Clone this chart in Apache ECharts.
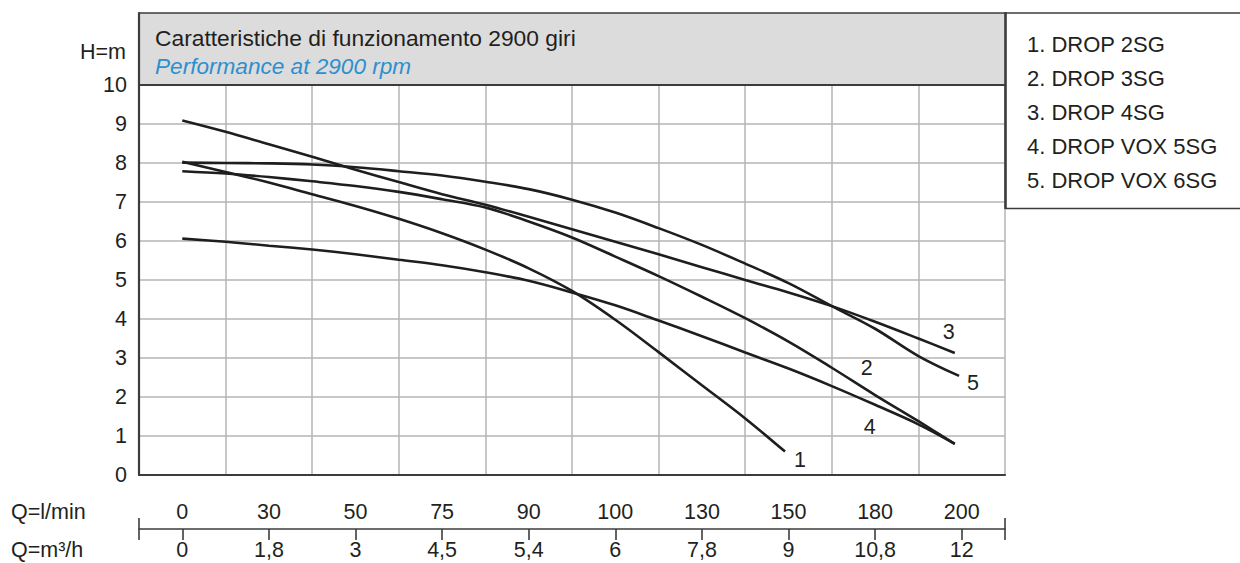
<!DOCTYPE html>
<html><head><meta charset="utf-8">
<script src="https://cdn.jsdelivr.net/npm/echarts@6/dist/echarts.min.js"></script>
<style>html,body{margin:0;padding:0;background:#fff}#c{width:1240px;height:563px}</style>
</head><body><div id="c"></div>
<script>
// ---- data (x = column position index: 0 -> first flow column, 9 -> last) ----
const seriesNames = ['1. DROP 2SG', '2. DROP 3SG', '3. DROP 4SG', '4. DROP VOX 5SG', '5. DROP VOX 6SG'];
const curveTags = ['1', '2', '3', '4', '5'];
const qLmin = ['0', '30', '50', '75', '90', '100', '130', '150', '180', '200'];
const qM3h = ['0', '1,8', '3', '4,5', '5,4', '6', '7,8', '9', '10,8', '12'];

const x1 = [0, 0.5, 1, 1.5, 2, 2.5, 3, 3.5, 4, 4.5, 5, 5.5, 6, 6.5, 6.96];
const h1 = [8.03, 7.77, 7.5, 7.2, 6.9, 6.57, 6.2, 5.78, 5.3, 4.72, 3.98, 3.15, 2.3, 1.45, 0.6];

const x2 = [0, 0.5, 1, 1.5, 2, 2.5, 3, 3.5, 4, 4.5, 5, 5.5, 6, 6.5, 7, 7.5, 8, 8.5, 8.92];
const h2 = [7.79, 7.73, 7.64, 7.53, 7.41, 7.26, 7.07, 6.86, 6.5, 6.09, 5.6, 5.1, 4.57, 4.02, 3.42, 2.75, 2.05, 1.38, 0.8];

const x3 = [0, 0.5, 1, 1.5, 2, 2.5, 3, 3.5, 4, 4.5, 5, 5.5, 6, 6.5, 7, 7.5, 8, 8.5, 8.92];
const h3 = [9.09, 8.8, 8.48, 8.16, 7.83, 7.51, 7.2, 6.93, 6.62, 6.3, 5.98, 5.66, 5.33, 5.0, 4.68, 4.33, 3.93, 3.5, 3.13];

const x4 = [0, 0.5, 1, 1.5, 2, 2.5, 3, 3.5, 4, 4.5, 5, 5.5, 6, 6.5, 7, 7.5, 8, 8.5, 8.92];
const h4 = [6.06, 5.98, 5.88, 5.78, 5.66, 5.52, 5.38, 5.2, 4.98, 4.68, 4.35, 3.96, 3.56, 3.14, 2.73, 2.28, 1.8, 1.3, 0.8];

const x5 = [0, 0.5, 1, 1.5, 2, 2.5, 3, 3.5, 4, 4.5, 5, 5.5, 6, 6.5, 7, 7.5, 8, 8.5, 8.97];
const h5 = [8.01, 8.0, 7.99, 7.96, 7.89, 7.79, 7.68, 7.52, 7.33, 7.06, 6.73, 6.33, 5.9, 5.42, 4.92, 4.33, 3.75, 3.05, 2.54];

// ---- styling ----
const NARROW = "'Liberation Sans Narrow', 'Liberation Sans', Arial, sans-serif";
const SANS = "'Liberation Sans', Arial, sans-serif";
const INK = '#231f20';
const GRIDC = '#b4b4b4';
const BORDER = '#3c3c3c';
const AX_FS = 21.5;
const curveX = [x1, x2, x3, x4, x5];
const curveH = [h1, h2, h3, h4, h5];
const tagOffsets = [[15, 8], [-88, -76], [-6, -21], [-85, -17], [14, 7]];

const chart = echarts.init(document.getElementById('c'), null, { renderer: 'svg' });

const series = curveH.map((hs, i) => {
  const xs = curveX[i];
  const last = xs.length - 1;
  return {
    name: seriesNames[i],
    type: 'line',
    xAxisIndex: 0,
    yAxisIndex: 0,
    smooth: 0.35,
    showSymbol: false,
    silent: true,
    lineStyle: { color: '#1e1e1e', width: 2.6 },
    data: hs.map((h, k) => [xs[k], h]),
    markPoint: {
      silent: true,
      symbol: 'circle',
      symbolSize: 1,
      itemStyle: { color: 'rgba(0,0,0,0)' },
      label: {
        show: true, position: 'inside', offset: tagOffsets[i],
        formatter: curveTags[i], color: INK, fontFamily: NARROW, fontSize: AX_FS
      },
      data: [{ coord: [xs[last], hs[last]] }]
    }
  };
});

const option = {
  animation: false,
  backgroundColor: '#ffffff',
  title: {
    text: 'Caratteristiche di funzionamento 2900 giri',
    subtext: 'Performance at 2900 rpm',
    left: 150, top: 21, padding: 5, itemGap: 4,
    textStyle: { fontFamily: SANS, fontSize: 22.8, fontWeight: 'normal', color: INK, lineHeight: 24 },
    subtextStyle: { fontFamily: SANS, fontSize: 22.6, fontStyle: 'italic', color: '#2e8fcf', lineHeight: 24 }
  },
  legend: {
    orient: 'vertical', left: 1017, top: 27,
    itemWidth: 0, itemHeight: 0, itemGap: 10,
    selectedMode: false,
    icon: 'rect',
    textStyle: { fontFamily: NARROW, fontSize: 22, color: INK, lineHeight: 24 },
    data: seriesNames
  },
  grid: { left: 139, right: 235, top: 85, bottom: 88, containLabel: false },
  xAxis: [
    {
      type: 'value', min: -0.5, max: 9.5, interval: 1,
      axisLine: { show: true, onZero: false, lineStyle: { color: BORDER, width: 2.2 } },
      axisTick: { show: false }, axisLabel: { show: false },
      splitLine: { show: true, lineStyle: { color: GRIDC, width: 1.5 } }
    },
    {
      type: 'category', data: qLmin, position: 'bottom', boundaryGap: true,
      axisLine: { show: false }, axisTick: { show: false }, splitLine: { show: false },
      axisLabel: { margin: 26, fontFamily: NARROW, fontSize: AX_FS, color: INK, interval: 0 }
    },
    {
      type: 'category', data: qM3h, position: 'bottom', offset: 54, boundaryGap: true,
      axisLine: { show: true, onZero: false, symbol: ['rect', 'rect'], symbolSize: [22, 1.6],
        lineStyle: { color: BORDER, width: 1.6 } },
      axisTick: { show: true, alignWithLabel: true, length: 11, lineStyle: { color: BORDER, width: 1.6 } },
      splitLine: { show: false },
      axisLabel: { margin: 10, fontFamily: NARROW, fontSize: AX_FS, color: INK, interval: 0 }
    }
  ],
  yAxis: {
    type: 'value', min: 0, max: 10, interval: 1,
    axisLine: { show: true, onZero: false, lineStyle: { color: BORDER, width: 2.2 } },
    axisTick: { show: false },
    axisLabel: { margin: 12, fontFamily: NARROW, fontSize: AX_FS, color: INK },
    splitLine: { show: true, lineStyle: { color: GRIDC, width: 1.5 } }
  },
  graphic: [
    { type: 'rect', z: -1, shape: { x: 139, y: 13, width: 866, height: 72 }, style: { fill: '#dcdcdc' } },
    { type: 'line', z: 5, shape: { x1: 139, y1: 13, x2: 1240, y2: 13 }, style: { stroke: BORDER, lineWidth: 1.6 } },
    { type: 'line', z: 5, shape: { x1: 139, y1: 12.2, x2: 139, y2: 86 }, style: { stroke: BORDER, lineWidth: 2.2 } },
    { type: 'line', z: 5, shape: { x1: 139, y1: 85, x2: 1005, y2: 85 }, style: { stroke: BORDER, lineWidth: 2.2 } },
    { type: 'line', z: 5, shape: { x1: 1005.5, y1: 12.2, x2: 1005.5, y2: 209 }, style: { stroke: BORDER, lineWidth: 2.6 } },
    { type: 'line', z: 5, shape: { x1: 1005, y1: 208.5, x2: 1240, y2: 208.5 }, style: { stroke: BORDER, lineWidth: 1.6 } },
    { type: 'text', z: 5, style: { x: 126, y: 52, text: 'H=m', align: 'right', verticalAlign: 'middle',
      font: AX_FS + 'px ' + NARROW, fill: INK } },
    { type: 'text', z: 5, style: { x: 11, y: 512, text: 'Q=l/min', align: 'left', verticalAlign: 'middle',
      font: AX_FS + 'px ' + NARROW, fill: INK } },
    { type: 'text', z: 5, style: { x: 11, y: 550, text: 'Q=m³/h', align: 'left', verticalAlign: 'middle',
      font: AX_FS + 'px ' + NARROW, fill: INK } }
  ],
  series: series
};
chart.setOption(option);
</script>
</body></html>
